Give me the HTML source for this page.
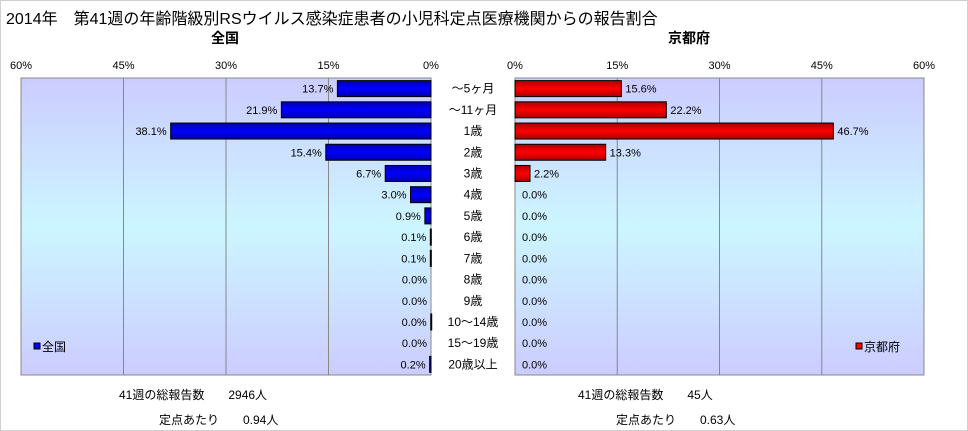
<!DOCTYPE html>
<html><head><meta charset="utf-8">
<style>
body{margin:0;background:#fff;}
#wrap{position:relative;width:966px;height:429px;border:1px solid #d0d0d0;background:#fff;font-family:"Liberation Sans","Noto Sans CJK JP",sans-serif;overflow:hidden;}
.t{position:absolute;white-space:nowrap;color:#000;}
</style></head><body>
<div id="wrap">
<div class="t" style="left:5px;top:4px;font-size:16px;">2014年　第41週の年齢階級別RSウイルス感染症患者の小児科定点医療機関からの報告割合</div>
<div class="t" style="left:210px;top:27px;font-size:14px;font-weight:bold;">全国</div>
<div class="t" style="left:667px;top:27px;font-size:14px;font-weight:bold;">京都府</div>
<svg id="chart" width="966" height="429" style="position:absolute;left:0;top:0"></svg>
<div class="t" style="left:118px;top:385px;font-size:12px;">41週の総報告数　　2946人</div>
<div class="t" style="left:158px;top:410px;font-size:12px;">定点あたり　　0.94人</div>
<div class="t" style="left:577px;top:385px;font-size:12px;">41週の総報告数　　45人</div>
<div class="t" style="left:615px;top:410px;font-size:12px;">定点あたり　　0.63人</div>
</div>
<script>
const categories=["～5ヶ月","～11ヶ月","1歳","2歳","3歳","4歳","5歳","6歳","7歳","8歳","9歳","10～14歳","15～19歳","20歳以上"];
const nationalValues=[13.7,21.9,38.1,15.4,6.7,3.0,0.9,0.1,0.1,0,0,0.04,0,0.2];
const kyotoValues=[15.6,22.2,46.7,13.3,2.2,0,0,0,0,0,0,0,0,0];
const tickValues=[0,15,30,45,60];
const NS="http://www.w3.org/2000/svg";
const svg=document.getElementById('chart');
const top0=77,bottom0=374,rowH=(bottom0-top0)/categories.length;
const L={x0:430,x1:20},R={x0:514,x1:923};
const xl=v=>L.x0-(L.x0-L.x1)*v/60;
const xr=v=>R.x0+(R.x1-R.x0)*v/60;
const yc=i=>top0+rowH*(i+0.5);
function mk(tag,attrs){const e=document.createElementNS(NS,tag);for(const k in attrs)e.setAttribute(k,attrs[k]);svg.appendChild(e);return e;}
const defs=mk('defs',{});
defs.innerHTML='<linearGradient id="bg" x1="0" y1="0" x2="0" y2="1"><stop offset="0" stop-color="#ccccff"/><stop offset="0.5" stop-color="#ccf6ff"/><stop offset="1" stop-color="#ccccff"/></linearGradient><linearGradient id="gb" x1="0" y1="0" x2="0" y2="1"><stop offset="0" stop-color="#0000aa"/><stop offset="0.5" stop-color="#0000ff"/><stop offset="1" stop-color="#0000aa"/></linearGradient><linearGradient id="gr" x1="0" y1="0" x2="0" y2="1"><stop offset="0" stop-color="#aa0000"/><stop offset="0.5" stop-color="#ff0000"/><stop offset="1" stop-color="#aa0000"/></linearGradient>';
function panel(side){
  const sc=side==='L'?xl:xr;
  const a=Math.min(sc(0),sc(60)),b=Math.max(sc(0),sc(60));
  let r=mk('rect',{x:a,y:top0,width:b-a,height:bottom0-top0,fill:'url(#bg)',stroke:'#888'});
  
  
  tickValues.forEach(t=>{
    const x=sc(t);
    if(t>0&&t<60){let g=mk('line',{x1:x,x2:x,y1:top0,y2:bottom0,stroke:'#888'});
      
      }
    let tx=mk('text',{x:x,y:68,'font-size':11,'text-anchor':'middle','font-family':'Liberation Sans, sans-serif'});
    tx.textContent=t+'%';
    
    
  });
}
panel('L');panel('R');
const bh=16;
categories.forEach((c,i)=>{
  const y=yc(i);
  let ct=mk('text',{x:472,y:y+4,'font-size':12,'text-anchor':'middle','font-family':'Liberation Sans, Noto Sans CJK JP, sans-serif'});
  ct.textContent=c;
  
  
  const nv=nationalValues[i];
  if(nv>0){let b=mk('rect',{x:xl(nv),y:y-bh/2,width:Math.max(1,xl(0)-xl(nv)),height:bh,fill:'url(#gb)',stroke:'#000','stroke-width':1});
    
    }
  let nl=mk('text',{x:xl(nv)-4,y:y+4,'font-size':11,'text-anchor':'end','font-family':'Liberation Sans, sans-serif'});
  nl.textContent=nv.toFixed(1)+'%';
  
  
  const kv=kyotoValues[i];
  if(kv>0){let b=mk('rect',{x:xr(0),y:y-bh/2,width:xr(kv)-xr(0),height:bh,fill:'url(#gr)',stroke:'#000','stroke-width':1});
    
    }
  let kl=mk('text',{x:xr(kv)+(kv>0?4:7),y:y+4,'font-size':11,'font-family':'Liberation Sans, sans-serif'});
  kl.textContent=kv.toFixed(1)+'%';
  
  
});
function legend(x,fill,label,name){
  let s=mk('rect',{x:x,y:342,width:6,height:6,fill:fill,stroke:'#000'});
  
  
  let t=mk('text',{x:x+8,y:350,'font-size':12,'font-family':'Liberation Sans, Noto Sans CJK JP, sans-serif'});
  t.textContent=label;
  
  
}
legend(33,'#0000ff','全国','legend-national');
legend(855,'#ff0000','京都府','legend-kyoto');
</script>
</body></html>
